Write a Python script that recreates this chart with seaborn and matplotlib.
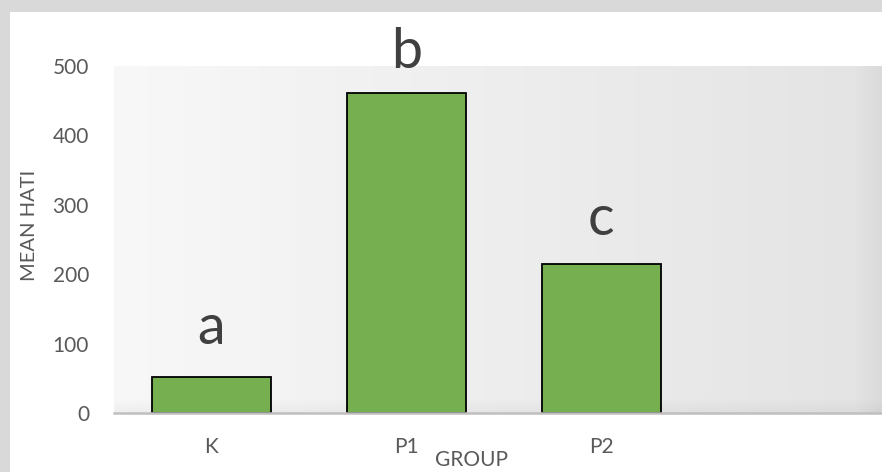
import numpy as np
import pandas as pd
import matplotlib
matplotlib.use("Agg")
import matplotlib.pyplot as plt
from matplotlib.patches import Rectangle
import seaborn as sns

# Mean liver values per treatment group, with significance letters
groups = ["K", "P1", "P2"]
mean_hati = [52, 461, 214]
sig_letters = ["a", "b", "c"]
y_ticks = [0, 100, 200, 300, 400, 500]

df = pd.DataFrame({"GROUP": groups, "MEAN HATI": mean_hati})

sns.set_theme(style="white")
plt.rcParams["font.family"] = ["Lato", "DejaVu Sans"]

text_grey = "#595959"
bar_green = "#76AF4F"

fig = plt.figure(figsize=(8.82, 4.72), dpi=100, facecolor="white")

# grey frame strips along the top and left edges of the sheet
fig.patches.append(Rectangle((0, 1 - 12 / 472), 1, 12 / 472, transform=fig.transFigure,
                             facecolor="#d9d9d9", edgecolor="none", zorder=-1))
fig.patches.append(Rectangle((0, 0), 10 / 882, 1, transform=fig.transFigure,
                             facecolor="#d9d9d9", edgecolor="none", zorder=-1))

ax = fig.add_axes([114 / 882, 59 / 472, 768 / 882, 347 / 472])

sns.barplot(data=df, x="GROUP", y="MEAN HATI", color=bar_green, width=0.61,
            edgecolor="black", linewidth=1.3, saturation=1, ax=ax, zorder=3)

ax.set_xlim(-0.5, 3.44)
ax.set_ylim(0, 500)
ax.set_yticks(y_ticks)

# plot-area fill: light-to-darker horizontal gradient with soft edge shading
nx, ny = 400, 200
xs = np.linspace(0, 1, nx)
ys = np.linspace(0, 1, ny)
horiz = 0.972 - 0.08 * xs
right_edge = 0.035 * np.clip((xs - 0.965) / 0.035, 0, 1)
shade = horiz[None, :] - right_edge[None, :]
bottom_edge = 0.035 * np.clip((0.04 - ys) / 0.04, 0, 1)
shade = shade - bottom_edge[:, None]
rgb = np.dstack([shade, shade, shade])
ax.imshow(rgb, extent=[0, 1, 0, 1], transform=ax.transAxes, origin="lower",
          aspect="auto", zorder=0, interpolation="bilinear")

for side in ["top", "right", "left"]:
    ax.spines[side].set_visible(False)
ax.spines["bottom"].set_color("#bfbfbf")
ax.spines["bottom"].set_linewidth(1.8)
ax.spines["bottom"].set_zorder(4)

ax.tick_params(axis="both", length=0, colors=text_grey, labelsize=15)
ax.tick_params(axis="y", pad=18)
ax.tick_params(axis="x", pad=17)

ax.set_xlabel("GROUP", fontsize=15, color=text_grey)
ax.set_ylabel("MEAN HATI", fontsize=14.5, color=text_grey)
ax.xaxis.set_label_coords(0.465, -0.108)
ax.yaxis.set_label_coords(-0.099, 0.54)

# significance letters above each bar
letter_offsets = [24, 18, 21]
for i, (val, letter) in enumerate(zip(mean_hati, sig_letters)):
    ax.annotate(letter, xy=(i, val), xytext=(0, letter_offsets[i]),
                textcoords="offset points", ha="center", va="baseline",
                fontsize=40, color="#404040", annotation_clip=False, zorder=5)

fig.savefig("out.png", dpi=100, facecolor=fig.get_facecolor())
